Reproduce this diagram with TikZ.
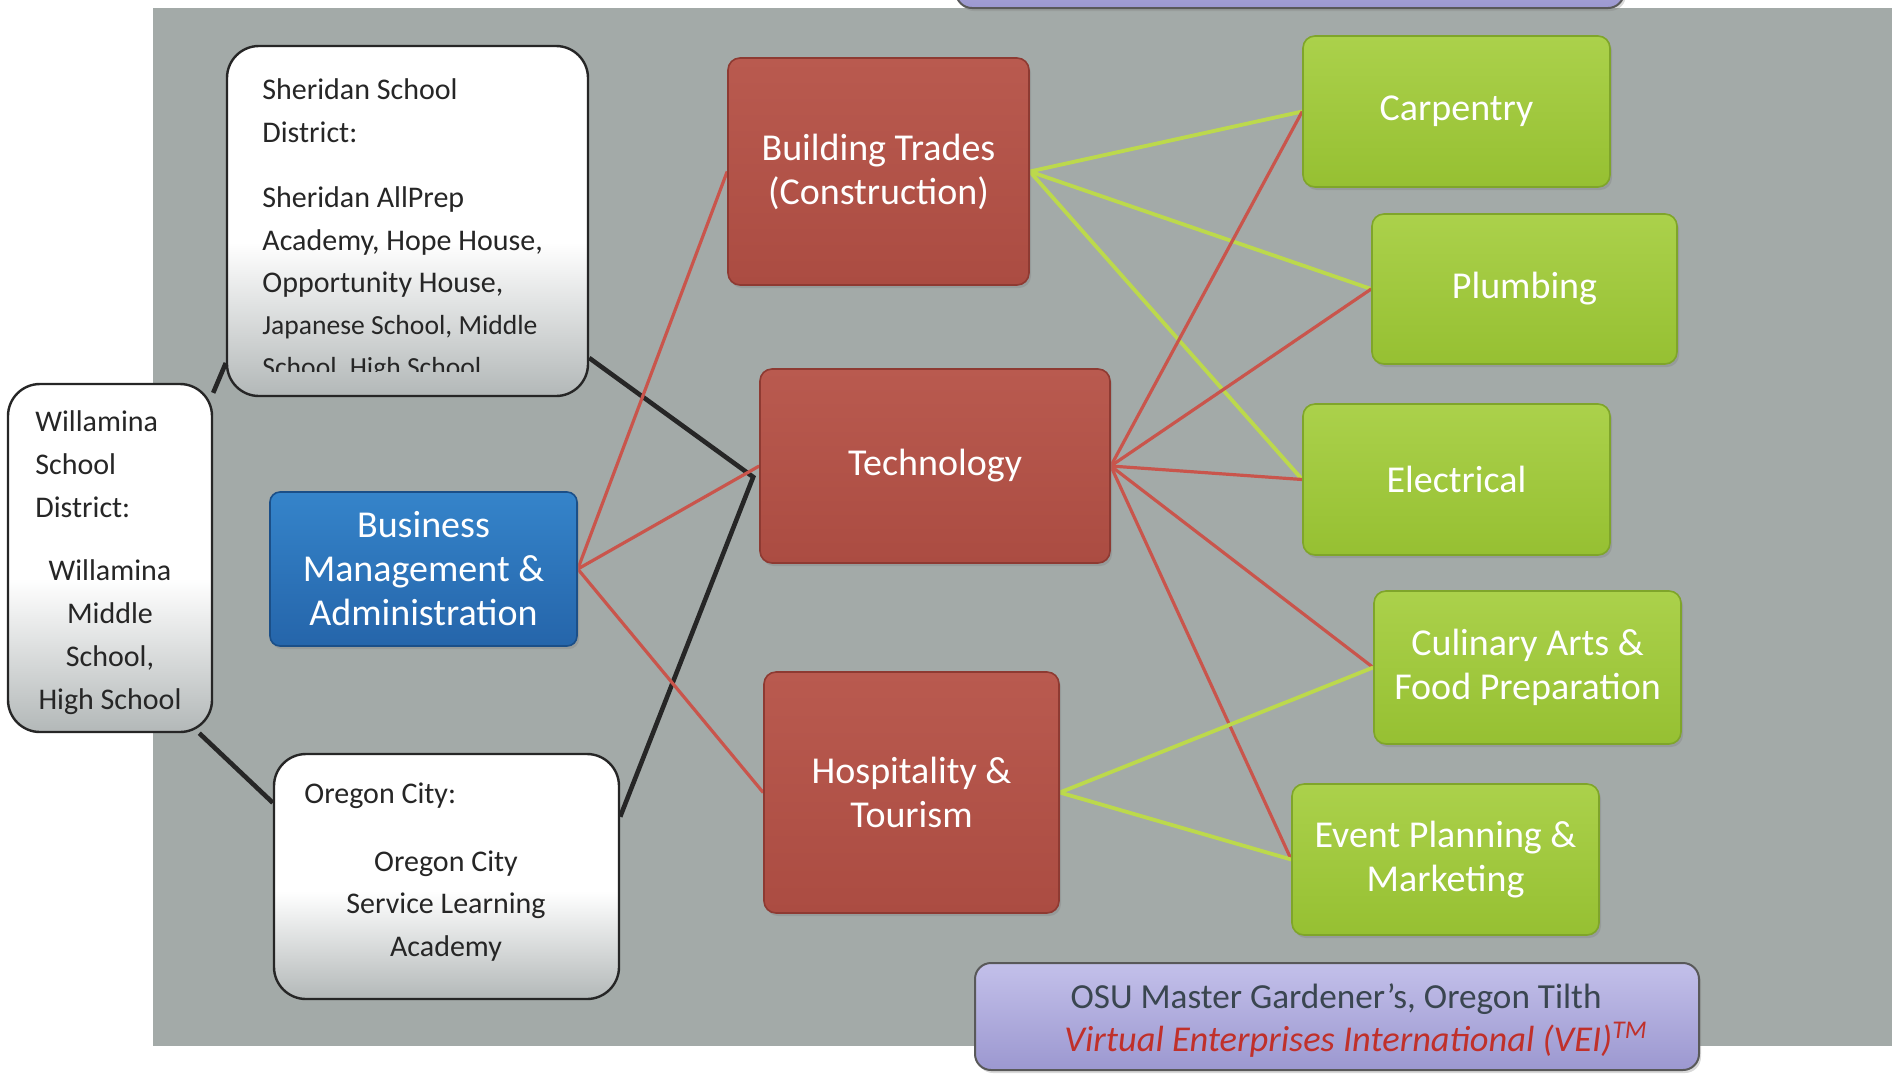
\documentclass[tikz,border=0pt]{standalone}
\usepackage{fontspec}
\setmainfont{Carlito}
\usetikzlibrary{positioning,calc,shadows}

\definecolor{slate}{HTML}{A3AAA8}
\definecolor{brickhi}{HTML}{B95A4F}
\definecolor{brick}{HTML}{AB4C42}
\definecolor{brickdk}{HTML}{8E3A32}
\definecolor{limehi}{HTML}{ABD14B}
\definecolor{lime}{HTML}{96C032}
\definecolor{limedk}{HTML}{7FA52A}
\definecolor{bizhi}{HTML}{3584CA}
\definecolor{biz}{HTML}{2565AA}
\definecolor{bizdk}{HTML}{1B4F88}
\definecolor{lilachi}{HTML}{C3C0EA}
\definecolor{lilac}{HTML}{9C98D0}
\definecolor{schoolgray}{HTML}{B3B8B8}
\definecolor{inkgray}{HTML}{262626}
\definecolor{osuink}{HTML}{3A4650}
\definecolor{pen}{HTML}{C0302A}
\definecolor{redline}{HTML}{C9554C}
\definecolor{greenline}{HTML}{BCD94C}

% white on top, grey only in the lower part
\pgfdeclareverticalshading{schoolfade}{100bp}{color(0bp)=(schoolgray); color(25bp)=(schoolgray);
    color(47bp)=(white); color(100bp)=(white)}

\pgfdeclarelayer{back}
\pgfdeclarelayer{edges}
\pgfsetlayers{back,edges,main}

\begin{document}
\begin{tikzpicture}[x=0.5pt, y=-0.5pt,
                    every box/.style = {rectangle, inner sep=0pt, align=center, text=white,
                            font=\fontsize{19}{22}\selectfont,
                            drop shadow={opacity=0.35, shadow xshift=1pt, shadow yshift=-1.5pt}},
                    trade/.style = {top color=brickhi, bottom color=brick, draw=brickdk, line width=0.8pt,
                            rounded corners=6pt, every box},
                    skill/.style = {top color=limehi, bottom color=lime, draw=limedk, line width=0.8pt,
                            rounded corners=6pt, every box},
                    business/.style = {top color=bizhi, bottom color=biz, draw=bizdk, line width=0.8pt,
                            rounded corners=5pt, font=\fontsize{19.5}{22}\selectfont, every box},
                    school/.style = {rectangle, shading=schoolfade, draw=inkgray, line width=1.2pt,
                            rounded corners=16pt, inner sep=0pt},
                    school text/.style = {inner sep=0pt, text=inkgray, font=\fontsize{15}{21.4}\selectfont},
                    partner/.style = {rectangle, top color=lilachi, bottom color=lilac, draw=black!65,
                            line width=1pt, rounded corners=8pt, inner sep=0pt,
                            drop shadow={opacity=0.3, shadow xshift=1pt, shadow yshift=-1.5pt}},
                    red link/.style = {draw=redline, line width=1.6pt},
                    green link/.style = {draw=greenline, line width=1.9pt},
                    school link/.style = {draw=inkgray, line width=2.3pt}]

                \useasboundingbox (0,0) rectangle (1892,1073);

                % pathways
                \node [trade, minimum width=150.5pt, minimum height=113.5pt] (building) at (878.5,171.5) {Building Trades\\(Construction)};
                \node [trade, minimum width=175pt, minimum height=97pt] (technology) at (935,466) {Technology};
                \node [trade, minimum width=147.5pt, minimum height=120.5pt] (hospitality) at (911.5,792.5) {Hospitality \&\\Tourism};
                \node [business, minimum width=153.5pt, minimum height=77pt] (business) at (423.5,569) {Business\\Management \&\\Administration};

                % careers
                \node [skill, minimum width=153.5pt, minimum height=75.5pt] (carpentry) at (1456.5,111.5) {Carpentry};
                \node [skill, minimum width=152.5pt, minimum height=75pt] (plumbing) at (1524.5,289) {Plumbing};
                \node [skill, minimum width=153.5pt, minimum height=75.5pt] (electrical) at (1456.5,479.5) {Electrical};
                \node [skill, minimum width=153.5pt, minimum height=76.5pt] (culinary) at (1527.5,667.5) {Culinary Arts \&\\Food Preparation};
                \node [skill, minimum width=153.5pt, minimum height=75.5pt] (event) at (1445.5,859.5) {Event Planning \&\\Marketing};

                % schools
                \node [school, minimum width=180.5pt, minimum height=175pt] (sheridan) at (407.5,221) {};
                \node [school text, anchor=west, align=left] (sheridanhead) at (262,111) {Sheridan School\\District:};
                \node [school text, anchor=west, align=left] (sheridanlist) at (262,242) {Sheridan AllPrep\\Academy, Hope House,\\Opportunity House,};
                \begin{scope}
                    \clip (227,300) rectangle (588,371);
                    \node [school text, anchor=west, align=left, font=\fontsize{13.8}{21}\selectfont] (sheridanmore) at (262,348) {Japanese School, Middle\\School, High School};
                \end{scope}

                \node [school, minimum width=102pt, minimum height=174pt] (willamina) at (110,558) {};
                \node [school text, anchor=west, align=left] (willaminahead) at (35,464) {Willamina\\School\\District:};
                \node [school text, align=center] (willaminalist) at (110,637) {Willamina\\Middle\\School,\\High School};

                \node [school, minimum width=172.5pt, minimum height=122.5pt] (oregon) at (446.5,876.5) {};
                \node [school text, anchor=west] (oregonhead) at (304,796) {Oregon City:};
                \node [school text, align=center] (oregonlist) at (446,906) {Oregon City\\Service Learning\\Academy};

                % partners
                \node [partner, minimum width=334pt, minimum height=40pt] (toppartner) at (1290,-32) {};
                \node [partner, minimum width=362pt, minimum height=53.5pt] (osu) at (1337,1016.5) {};
                \node [inner sep=0pt, text=osuink, font=\fontsize{17.6}{20}\selectfont] (osuline) at (1336,999) {OSU Master Gardener’s, Oregon Tilth};
                \node [inner sep=0pt, text=pen, font=\fontsize{18.2}{20}\itshape] (veiline) at (1356,1040) {Virtual Enterprises International (VEI)\textsuperscript{TM}};

                \begin{pgfonlayer}{back}
                    \fill [slate] (153,8) rectangle (1892,1046);
                \end{pgfonlayer}

                \begin{pgfonlayer}{edges}
                    \coordinate (meet) at ($(technology.west)+(-6,11)$);
                    \draw [school link] (willamina.58) -- (sheridan.218);
                    \draw [school link] (willamina.-63) -- (oregon.157);
                    \draw [school link] (sheridan.-37) -- (meet) -- (oregon.19);

                    \foreach \to in {building,technology,hospitality}
                        \draw [red link] (business.east) -- (\to.west);
                    \foreach \to in {carpentry,plumbing,electrical}
                        \draw [green link] (building.east) -- (\to.west);
                    \foreach \to in {carpentry,plumbing,electrical,culinary,event}
                        \draw [red link] (technology.east) -- (\to.west);
                    \foreach \to in {culinary,event}
                        \draw [green link] (hospitality.east) -- (\to.west);
                \end{pgfonlayer}
            \end{tikzpicture}
\end{document}
